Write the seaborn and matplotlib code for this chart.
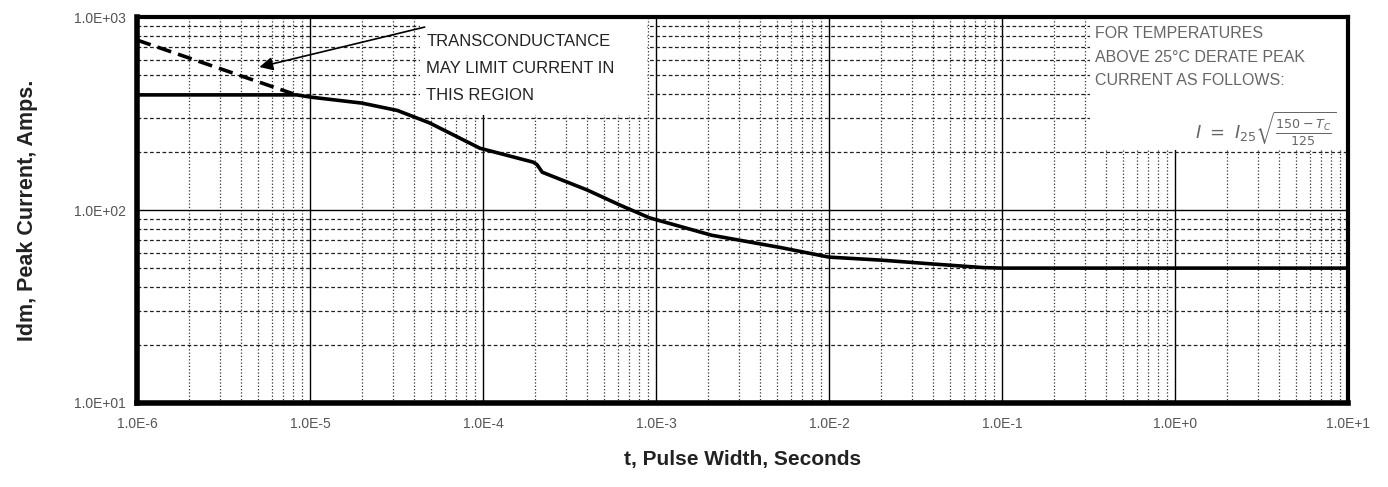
import numpy as np
import pandas as pd
import matplotlib
matplotlib.use("Agg")
import matplotlib.pyplot as plt
import matplotlib.ticker as mticker
from matplotlib.patches import Rectangle
import seaborn as sns

# ── data ──────────────────────────────────────────────────────────────────────
pulse_width = [1e-6, 8.4e-6, 1e-5, 2e-5, 3.2e-5, 4.9e-5, 9.6e-5, 1.95e-4, 2.05e-4,
               2.2e-4, 4e-4, 6.2e-4, 9.2e-4, 2.1e-3, 5.2e-3, 1e-2, 2e-2,
               4e-2, 7.8e-2, 1e-1, 1e0, 1e1]
peak_current = [395, 395, 385, 358, 328, 283, 209, 177, 172,
                157, 127, 106, 91, 74, 64, 57, 55,
                52.5, 50.3, 50, 50, 50]

# transconductance limit (dashed)
gm_width   = [1e-6, 8e-6]
gm_current = [760, 400]

y_ticks = [1e1, 1e2, 1e3]
y_tick_labels = ["1.0E+01", "1.0E+02", "1.0E+03"]
x_ticks = [1e-6, 1e-5, 1e-4, 1e-3, 1e-2, 1e-1, 1e0, 1e1]
x_tick_labels = ["1.0E-6", "1.0E-5", "1.0E-4", "1.0E-3",
                 "1.0E-2", "1.0E-1", "1.0E+0", "1.0E+1"]

curve = pd.DataFrame({"t": pulse_width, "idm": peak_current})
limit = pd.DataFrame({"t": gm_width, "idm": gm_current})

# ── style ─────────────────────────────────────────────────────────────────────
sns.set_style("white")
plt.rcParams["font.family"] = ["Liberation Sans", "DejaVu Sans"]

fig = plt.figure(figsize=(13.88, 4.87), dpi=100)
ax = fig.add_axes([0.0987, 0.1725, 0.8725, 0.7925])

ax.set_xscale("log")
ax.set_yscale("log")
ax.set_xlim(1e-6, 1e1)
ax.set_ylim(1e1, 1e3)

# grid: solid decades, dotted / dashed minors
ax.xaxis.set_minor_locator(mticker.LogLocator(base=10, subs=np.arange(2, 10), numticks=50))
ax.yaxis.set_minor_locator(mticker.LogLocator(base=10, subs=np.arange(2, 10), numticks=50))
ax.xaxis.set_minor_formatter(mticker.NullFormatter())
ax.yaxis.set_minor_formatter(mticker.NullFormatter())
ax.grid(which="major", color="black", linestyle="-", linewidth=1.0)
ax.grid(which="minor", axis="x", color="#333333", linestyle=":", linewidth=0.9)
ax.grid(which="minor", axis="y", color="#222222", linestyle=(0, (3, 2)), linewidth=0.9)
ax.set_axisbelow(True)

# white boxes behind the notes
ax.add_patch(Rectangle((0.234, 0.746), 0.187, 0.254, transform=ax.transAxes,
                       facecolor="white", edgecolor="none", zorder=1.5))
ax.add_patch(Rectangle((0.787, 0.655), 0.213, 0.345, transform=ax.transAxes,
                       facecolor="white", edgecolor="none", zorder=1.5))

sns.lineplot(data=curve, x="t", y="idm", ax=ax, color="black", linewidth=2.6,
             sort=False, estimator=None, zorder=3)
sns.lineplot(data=limit, x="t", y="idm", ax=ax, color="black", linewidth=2.6,
             linestyle=(0, (4, 2)), sort=False, estimator=None, zorder=3)

# annotation
ax.annotate("", xy=(5.1e-6, 551), xytext=(4.6e-5, 887),
            arrowprops=dict(arrowstyle="-|>", color="black", lw=1.2,
                            mutation_scale=20, shrinkA=0, shrinkB=0), zorder=4)
note_kw = dict(transform=ax.transAxes, fontsize=12, color="#222222",
               ha="left", va="center", zorder=4)
ax.text(0.239, 0.936, "TRANSCONDUCTANCE", **note_kw)
ax.text(0.239, 0.866, "MAY LIMIT CURRENT IN", **note_kw)
ax.text(0.239, 0.798, "THIS REGION", **note_kw)

derate_kw = dict(transform=ax.transAxes, fontsize=11.5, color="#666666",
                 ha="left", va="center", zorder=4)
ax.text(0.791, 0.958, "FOR TEMPERATURES", **derate_kw)
ax.text(0.791, 0.896, "ABOVE 25\u00b0C DERATE PEAK", **derate_kw)
ax.text(0.791, 0.836, "CURRENT AS FOLLOWS:", **derate_kw)
ax.text(0.99, 0.71, r"$I\ =\ I_{25}\sqrt{\frac{150-T_C}{125}}$",
        transform=ax.transAxes, fontsize=13, color="#666666",
        ha="right", va="center", zorder=4)

# ticks & labels
ax.set_xticks(x_ticks)
ax.set_xticklabels(x_tick_labels)
ax.set_yticks(y_ticks)
ax.set_yticklabels(y_tick_labels)
ax.tick_params(which="both", length=0, labelsize=10, labelcolor="#555555")
ax.tick_params(axis="x", pad=10)
ax.tick_params(axis="y", pad=8)

ax.set_xlabel("t, Pulse Width, Seconds", fontsize=15, fontweight="bold",
              color="#222222", labelpad=14)
ax.set_ylabel("Idm, Peak Current, Amps.", fontsize=15.5, fontweight="bold",
              color="#222222", labelpad=26)

for side, lw in {"left": 4, "bottom": 4, "top": 3, "right": 3}.items():
    ax.spines[side].set_visible(True)
    ax.spines[side].set_color("black")
    ax.spines[side].set_linewidth(lw)

fig.savefig("out.png", dpi=100, facecolor="white")
